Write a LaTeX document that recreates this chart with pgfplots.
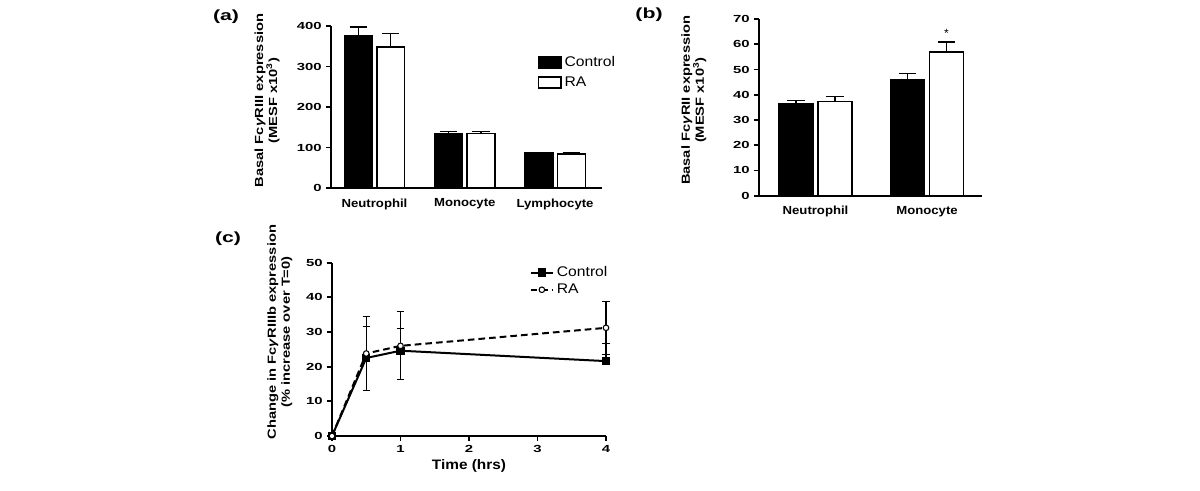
\documentclass[border=0pt]{standalone}
\usepackage{fontspec}
\setmainfont{Liberation Sans}
\newfontfamily\cf{Liberation Sans}[FakeStretch=1.12]
\newfontfamily\wf{Liberation Sans}[FakeStretch=1.25]
\newfontfamily\tf{Liberation Sans}[FakeStretch=1.45]
\usepackage{pgfplots}
\pgfplotsset{compat=1.18}
\pgfplotsset{
  myaxis/.style={
    scale only axis,
    axis x line*=bottom, axis y line*=left,
    axis line style={-, line width=1.3pt, black},
    tick align=outside,
    major tick length=3.5pt,
    ytick style={line width=1.3pt, black},
    /pgf/number format/assume math mode=true,
    tick label style={font=\tf\bfseries\fontsize{7.7}{9}\selectfont},
    ylabel style={font=\wf\bfseries\fontsize{8.8}{10.5}\selectfont, align=center, anchor=south},
    xlabel style={font=\cf\bfseries\fontsize{10.3}{12}\selectfont},
    clip=false,
  },
  barerr/.style={error bars/.cd, y dir=plus, y explicit,
    error bar style={line width=1.1pt, black},
    error mark options={rotate=90, mark size=#1, line width=1.1pt, black}},
  barleg/.style={legend image code/.code={\draw[##1, line width=1.1pt] (0pt,-4.2pt) rectangle (17pt,4.2pt);}},
}
\begin{document}
\begin{tikzpicture}
\path (0,0) rectangle (900pt,368.25pt);
% panel labels
\node[font=\tf\bfseries\fontsize{11}{13}\selectfont] at (169.5pt,356pt) {(a)};
\node[font=\tf\bfseries\fontsize{11}{13}\selectfont] at (486.75pt,357.5pt) {(b)};
\node[font=\tf\bfseries\fontsize{11}{13}\selectfont] at (171pt,189.5pt) {(c)};

% ---------- (a)
\begin{axis}[myaxis,
  at={(248.25pt,227.25pt)}, anchor=south west,
  width=203.25pt, height=121.5pt,
  xmin=-0.482, xmax=2.52, ymin=0, ymax=400,
  ytick={0,100,200,300,400},
  xtick={0,1,2}, xticklabels={Neutrophil,Monocyte,Lymphocyte},
  xtick style={draw=none},
  x tick label style={font=\cf\bfseries\fontsize{8.8}{10}\selectfont, yshift=-1pt},
  ylabel={Basal Fc\textit{γ}RIII expression\\(MESF x10\textsuperscript{3})},
  ylabel style={at={(axis description cs:-0.172,0.54)}},
  legend style={draw=none, fill=none, at={(rel axis cs:0.762,0.83)}, anchor=north west,
    font=\cf\fontsize{10.5}{12}\selectfont, inner sep=0pt, row sep=2pt,
    legend cell align=left},
]
\addplot[ybar, bar width=0.31, bar shift=0pt, fill=black, draw=black, line width=1.1pt,
  barleg, barerr=6.5pt] coordinates {
  (-0.18,376) +- (0,21)
  (0.82,135) +- (0,5)
  (1.82,86) +- (0,2)
};
\addlegendentry{Control}
\addplot[ybar, bar width=0.31, bar shift=0pt, fill=white, draw=black, line width=1.1pt,
  barleg, barerr=6.5pt] coordinates {
  (0.18,348) +- (0,34)
  (1.18,134) +- (0,5)
  (2.18,84.5) +- (0,2)
};
\addlegendentry{RA}
\end{axis}

% ---------- (b)
\begin{axis}[myaxis,
  at={(569.25pt,221.5pt)}, anchor=south west,
  width=167.25pt, height=132.5pt,
  xmin=-0.507, xmax=1.493, ymin=0, ymax=70,
  ytick={0,10,...,70},
  xtick={0,1}, xticklabels={Neutrophil,Monocyte},
  xtick style={draw=none},
  x tick label style={font=\cf\bfseries\fontsize{8.8}{10}\selectfont, yshift=-1pt},
  ylabel={Basal Fc\textit{γ}RII expression\\(MESF x10\textsuperscript{3})},
  ylabel style={at={(axis description cs:-0.215,0.54)}},
]
\addplot[ybar, bar width=0.305, bar shift=0pt, fill=black, draw=black, line width=1.1pt,
  barerr=6.5pt] coordinates {
  (-0.175,36.3) +- (0,1.3)
  (0.825,46.0) +- (0,2.5)
};
\addplot[ybar, bar width=0.305, bar shift=0pt, fill=white, draw=black, line width=1.1pt,
  barerr=6.5pt] coordinates {
  (0.175,37.4) +- (0,1.8)
  (1.175,56.9) +- (0,4.0)
};
\node[font=\fontsize{9}{10}\selectfont] at (axis cs:1.175,64.2) {*};
\end{axis}

% ---------- (c)
\begin{axis}[myaxis,
  at={(249pt,41.25pt)}, anchor=south west,
  width=205.5pt, height=130pt,
  xmin=0, xmax=4, ymin=0, ymax=50,
  xtick={0,1,2,3,4}, ytick={0,10,...,50},
  xtick style={line width=1.3pt, black},
  xlabel={Time (hrs)},
  xlabel style={yshift=2pt},
  ylabel={Change in Fc\textit{γ}RIIIb expression\\(\% increase over T=0)},
  ylabel style={at={(axis description cs:-0.128,0.6)}},
  legend style={draw=none, fill=none, at={(rel axis cs:0.72,0.995)}, anchor=north west,
    font=\cf\fontsize{10.5}{12}\selectfont, inner sep=0pt, row sep=0pt,
    legend cell align=left},
  legend image code/.code={\draw[#1] (0pt,0pt) -- (8.5pt,0pt) -- (17pt,0pt);
    \draw[#1, solid] plot coordinates {(8.5pt,0pt)};},
]
\addplot[black, line width=1.5pt, mark=square*, mark size=2.3pt,
  mark options={solid},
  error bars/.cd, y dir=plus, y explicit,
  error bar style={line width=0.8pt, solid},
  error mark options={rotate=90, mark size=2.8pt, line width=0.8pt, solid}]
  coordinates {
  (0,0) +- (0,0)
  (0.5,22.5) +- (0,9.0)
  (1,24.6) +- (0,6.3)
  (4,21.6) +- (0,5.2)
};
\addlegendentry{Control}
\addplot[black, line width=1.5pt, dash pattern=on 5pt off 3pt,
  mark=*, mark size=2.1pt, mark options={solid, fill=white, line width=0.8pt},
  error bars/.cd, y dir=both, y explicit,
  error bar style={line width=0.8pt, solid},
  error mark options={rotate=90, mark size=2.8pt, line width=0.8pt, solid}]
  coordinates {
  (0,0) +- (0,0)
  (0.5,23.8) +- (0,10.6)
  (1,26.0) +- (0,9.8)
  (4,31.2) +- (0,7.7)
};
\addlegendentry{RA}
\end{axis}
\end{tikzpicture}
\end{document}
